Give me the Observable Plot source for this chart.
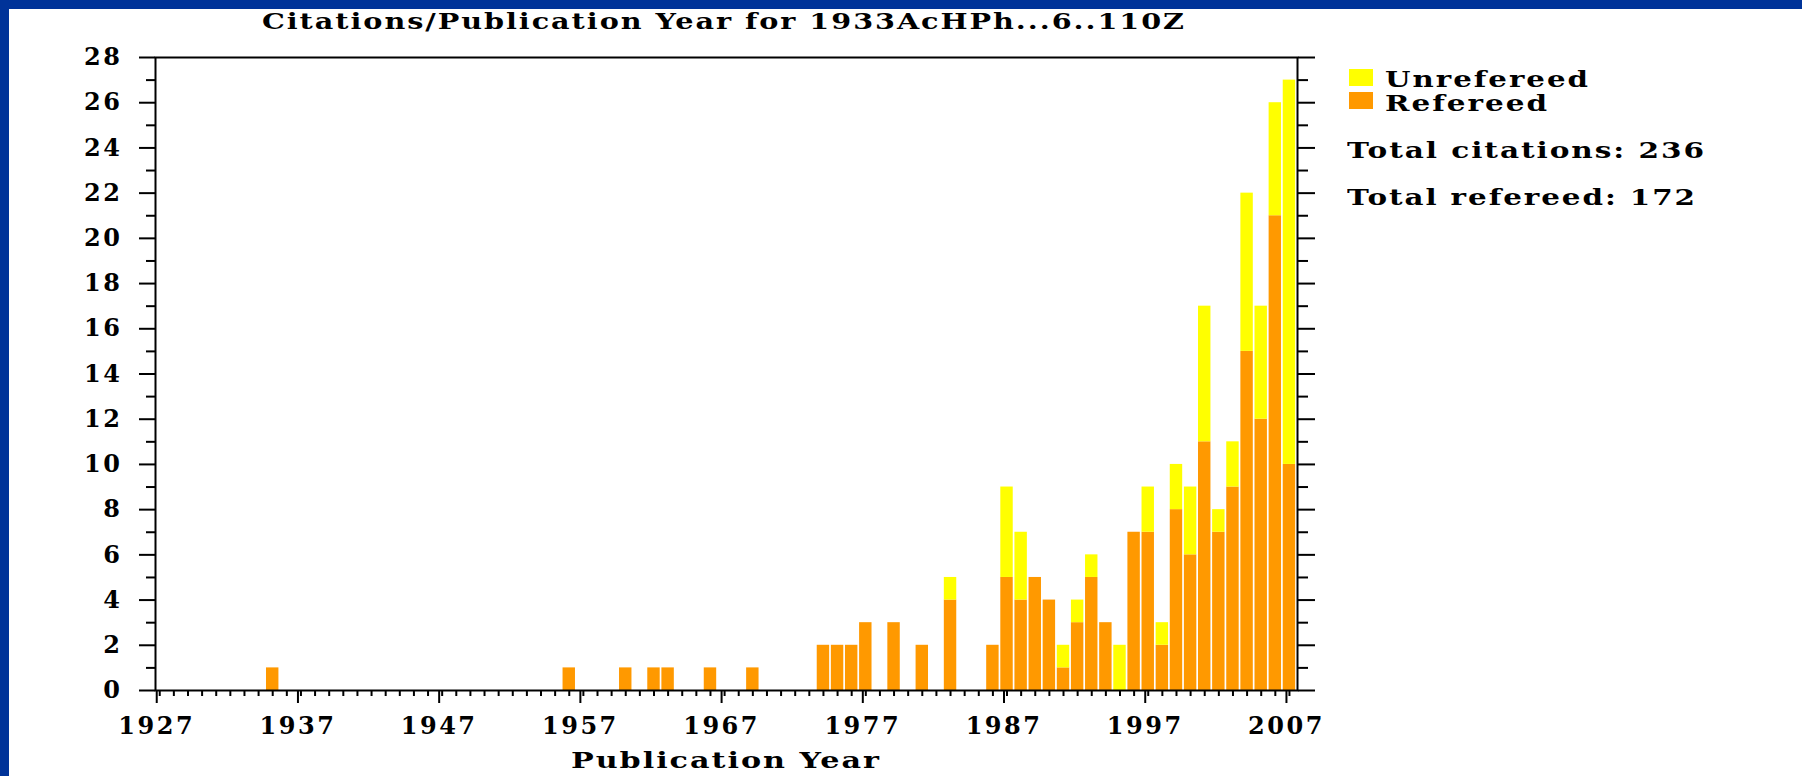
<!DOCTYPE html>
<html><head><meta charset="utf-8">
<script src="https://cdn.jsdelivr.net/npm/d3@7"></script>
<script src="https://cdn.jsdelivr.net/npm/@observablehq/plot@0.6"></script>
<style>
html,body{margin:0;padding:0;background:#fff;width:1802px;height:776px;overflow:hidden;position:relative;}
.band{position:absolute;background:#003399;z-index:5}
.t{position:absolute;font-family:"DejaVu Serif";font-weight:bold;white-space:nowrap;color:#000;transform-origin:0 0}
.sw{position:absolute;width:24px;height:17px}
#chart{position:absolute;left:0;top:0}
</style></head><body>
<div class="band" style="left:0;top:0;width:1802px;height:9px"></div>
<div class="band" style="left:0;top:0;width:9px;height:776px"></div>
<div id="chart"></div>
<script>
// ---- data ----
const years      = [1935,1956,1960,1962,1963,1966,1969,1974,1975,1976,1977,1979,1981,1983,
                    1986,1987,1988,1989,1990,1991,1992,1993,1994,1995,1996,1997,1998,1999,
                    2000,2001,2002,2003,2004,2005,2006,2007];
const refereed   = [1,1,1,1,1,1,1,2,2,2,3,3,2,4,
                    2,5,4,5,4,1,3,5,3,0,7,7,2,8,
                    6,11,7,9,15,12,21,10];
const unrefereed = [0,0,0,0,0,0,0,0,0,0,0,0,0,1,
                    0,4,3,0,0,1,1,1,0,2,0,2,1,2,
                    3,6,1,2,7,5,5,17];
const seriesNames  = ["Unrefereed", "Refereed"];
const seriesColors = ["#ffff00", "#ff9900"];
const titleText = "Citations/Publication Year for 1933AcHPh...6..110Z";
const xLabel = "Publication Year";
const yMajorTicks = [0,2,4,6,8,10,12,14,16,18,20,22,24,26,28];
const yMinorTicks = [1,3,5,7,9,11,13,15,17,19,21,23,25,27];
const xMajorTicks = [1927,1937,1947,1957,1967,1977,1987,1997,2007];
const xMinorTicks = d3.range(1927, 2008);

// ---- table ----
const rows = [];
years.forEach((yr, i) => {
  rows.push({year: yr, type: "Refereed", lo: 0, hi: refereed[i]});
  if (unrefereed[i] > 0) rows.push({year: yr, type: "Unrefereed", lo: refereed[i], hi: refereed[i] + unrefereed[i]});
});
const half = 0.44;

const plot = Plot.plot({
  width: 1340, height: 776,
  marginLeft: 155, marginRight: 43, marginTop: 57, marginBottom: 86,
  style: {background: "transparent", fontFamily: "DejaVu Serif", fontWeight: "bold", fontSize: "24px", letterSpacing: "2.5px", color: "#000"},
  x: {domain: [1926.7, 2007.57], label: null},
  y: {domain: [0, 28], label: null},
  color: {domain: seriesNames, range: seriesColors},
  marks: [
    Plot.rectY(rows, {x1: d => d.year - half, x2: d => d.year + half, y1: "lo", y2: "hi", fill: "type"}),
    Plot.axisY({ticks: yMajorTicks, tickSize: 16, tickPadding: 17, strokeWidth: 2, label: null}),
    Plot.axisY({ticks: yMinorTicks, tickSize: 9, text: null, strokeWidth: 2, label: null}),
    Plot.axisY({anchor: "right", ticks: yMajorTicks, tickSize: 17, text: null, strokeWidth: 2, label: null}),
    Plot.axisY({anchor: "right", ticks: yMinorTicks, tickSize: 10, text: null, strokeWidth: 2, label: null}),
    Plot.axisX({ticks: xMajorTicks, tickSize: 13, tickPadding: 13, tickFormat: d => String(d), dx: -3, strokeWidth: 2, label: null}),
    Plot.axisX({ticks: xMinorTicks, tickSize: 6, text: null, strokeWidth: 2, label: null}),
    Plot.frame({stroke: "#000", strokeWidth: 2})
  ]
});
document.getElementById("chart").appendChild(plot);

// ---- text helpers: fit ink width by letter-spacing + horizontal stretch ----
function addText(str, left, baseline, width, size) {
  const el = document.createElement("div");
  el.className = "t";
  el.style.fontSize = size + "px";
  el.style.lineHeight = size + "px";
  el.style.left = left + "px";
  el.style.top = (baseline - 0.846 * size) + "px";
  el.style.letterSpacing = "1.5px";
  el.textContent = str;
  document.body.appendChild(el);
  const w = el.getBoundingClientRect().width - 1.5;
  el.style.transform = "scaleX(" + (width / w) + ")";
  return el;
}

addText(titleText, 262, 29, 922, 22);
addText(xLabel, 571, 767, 308, 23);

// legend
const legendTops = [69, 92];
const legendBase = [87, 111];
const legendWidths = [203, 162];
seriesNames.forEach((name, i) => {
  const sw = document.createElement("div");
  sw.className = "sw";
  sw.style.left = "1349px";
  sw.style.top = legendTops[i] + "px";
  sw.style.background = seriesColors[i];
  document.body.appendChild(sw);
  addText(name, 1385, legendBase[i], legendWidths[i], 22);
});
const totalAll = d3.sum(refereed) + d3.sum(unrefereed);
const totalRef = d3.sum(refereed);
addText("Total citations: " + totalAll, 1347, 157, 357, 23);
addText("Total refereed: " + totalRef, 1347, 204, 348, 23);
</script>
</body></html>
